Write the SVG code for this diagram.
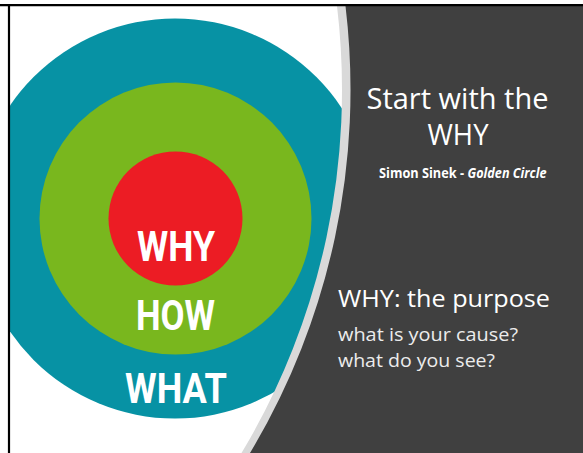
<svg xmlns="http://www.w3.org/2000/svg" width="583" height="453" viewBox="0 0 583 453">
  <defs>
    <clipPath id="slide">
      <rect x="10" y="6" width="573" height="447"/>
    </clipPath>
    <style>
      .lbl { font-family: Roboto, "Liberation Sans", sans-serif; font-weight: bold; font-size: 43px; fill: #ffffff; text-anchor: middle; }
      .ttl { font-family: "Open Sans", "Noto Sans", sans-serif; fill: #ffffff; }
      .body { font-family: "Open Sans", "Noto Sans", sans-serif; fill: #ececec; }
    </style>
  </defs>
  <rect x="0" y="0" width="583" height="453" fill="#ffffff"/>
  <g id="circles" clip-path="url(#slide)">
    <circle id="what-circle" cx="175" cy="218.5" r="200" fill="#0792a4"/>
    <circle id="how-circle" cx="175.5" cy="218.5" r="136" fill="#79b71e"/>
    <circle id="why-circle" cx="175.5" cy="218.5" r="67" fill="#ec1c24"/>
  </g>
  <g id="circle-labels">
    <text class="lbl" x="176" y="261" textLength="78" lengthAdjust="spacingAndGlyphs">WHY</text>
    <text class="lbl" x="175.5" y="330" textLength="79" lengthAdjust="spacingAndGlyphs">HOW</text>
    <text class="lbl" x="176" y="403" textLength="102" lengthAdjust="spacingAndGlyphs">WHAT</text>
  </g>
  <g id="panel">
    <path d="M 337 6 A 706 706 0 0 1 241.5 453 L 583 453 L 583 6 Z" fill="#d9d9d9"/>
    <path d="M 345.5 6 A 706 706 0 0 1 250 453 L 583 453 L 583 6 Z" fill="#404040"/>
  </g>
  <g id="title">
    <text class="ttl" x="457.5" y="109" font-size="29" text-anchor="middle" textLength="182" lengthAdjust="spacingAndGlyphs">Start with the</text>
    <text class="ttl" x="458" y="145" font-size="29" text-anchor="middle" textLength="61" lengthAdjust="spacingAndGlyphs">WHY</text>
    <text class="ttl" x="379" y="178" font-size="14" font-weight="bold" textLength="85" lengthAdjust="spacingAndGlyphs">Simon Sinek -</text>
    <text class="ttl" x="467.5" y="178" font-size="14" font-weight="bold" font-style="italic" textLength="79" lengthAdjust="spacingAndGlyphs">Golden Circle</text>
  </g>
  <g id="purpose">
    <text class="ttl" x="338" y="306.5" font-size="23" textLength="212" lengthAdjust="spacingAndGlyphs">WHY: the purpose</text>
    <text class="body" x="338" y="340.5" font-size="18.5" textLength="180" lengthAdjust="spacingAndGlyphs">what is your cause?</text>
    <text class="body" x="338" y="366.5" font-size="18.5" textLength="157" lengthAdjust="spacingAndGlyphs">what do you see?</text>
  </g>
  <g id="border" stroke="#000000" stroke-width="2.2">
    <line x1="0" y1="5.2" x2="583" y2="5.2"/>
    <line x1="9" y1="4" x2="9" y2="453"/>
  </g>
</svg>
